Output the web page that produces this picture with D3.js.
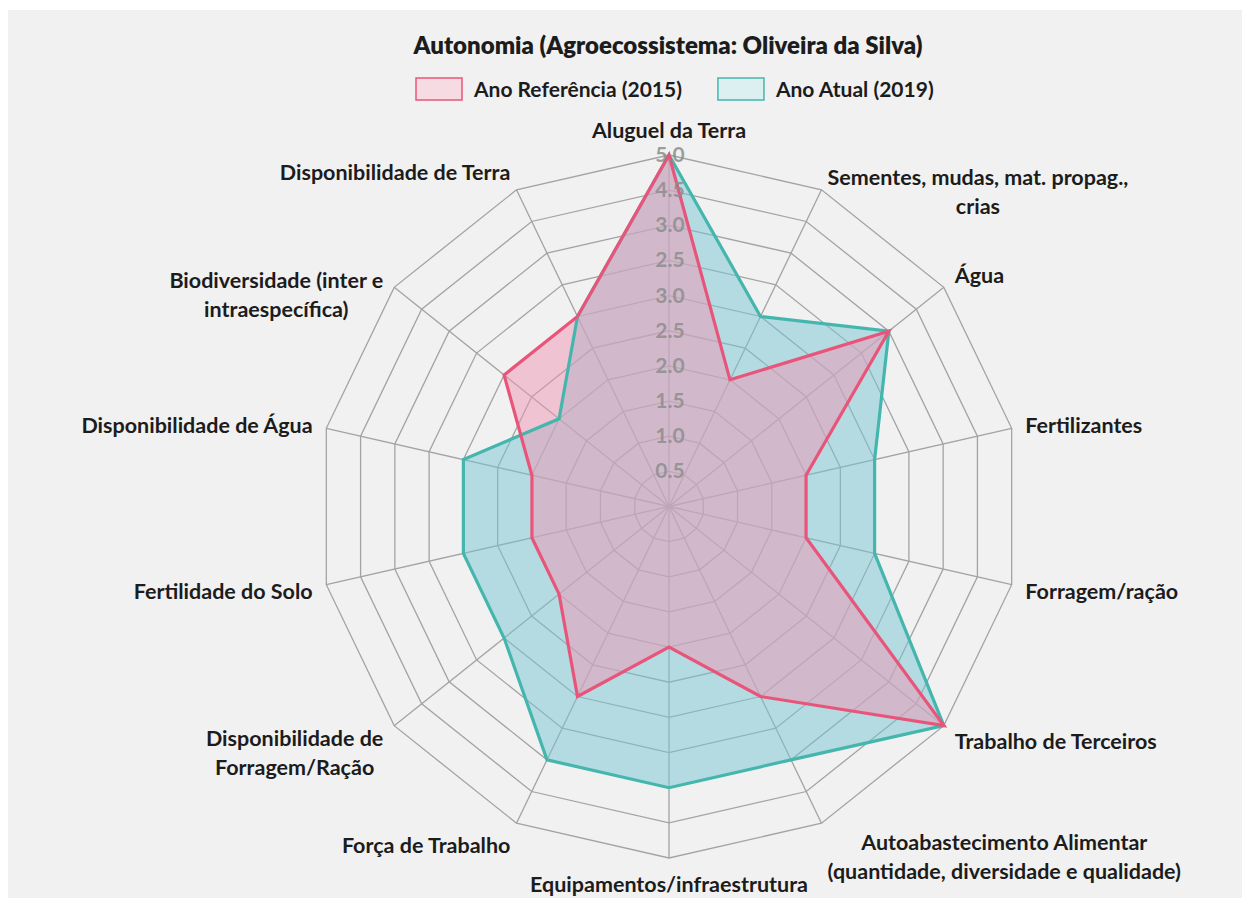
<!DOCTYPE html>
<html>
<head>
<meta charset="utf-8">
<script src="https://cdn.jsdelivr.net/npm/d3@7"></script>
<style>
  html, body { margin: 0; padding: 0; background: #ffffff; }
  svg { display: block; }
</style>
</head>
<body>
<svg id="chart" width="1248" height="904"></svg>
<script>
// ---------------- DATA ----------------
const title = "Autonomia (Agroecossistema: Oliveira da Silva)";
const seriesNames = ["Ano Referência (2015)", "Ano Atual (2019)"];
const categories = [
  "Aluguel da Terra",
  "Sementes, mudas, mat. propag.,\ncrias",
  "Água",
  "Fertilizantes",
  "Forragem/ração",
  "Trabalho de Terceiros",
  "Autoabastecimento Alimentar\n(quantidade, diversidade e qualidade)",
  "Equipamentos/infraestrutura",
  "Força de Trabalho",
  "Disponibilidade de\nForragem/Ração",
  "Fertilidade do Solo",
  "Disponibilidade de Água",
  "Biodiversidade (inter e\nintraespecífica)",
  "Disponibilidade de Terra"
];
const values2015 = [5, 2, 4, 2, 2, 5, 3, 2, 3, 2, 2, 2, 3, 3];
const values2019 = [5, 3, 4, 3, 3, 5, 4, 4, 4, 3, 3, 3, 2, 3];
const tickValues = [0.5, 1.0, 1.5, 2.0, 2.5, 3.0, 3.5, 4.0, 4.5, 5.0];
const tickLabels = ["0.5", "1.0", "1.5", "2.0", "2.5", "3.0", "2.5", "3.0", "4.5", "5.0"];

// ---------------- LAYOUT ----------------
const W = 1248, H = 904;
const cx = 669, cy = 506.5, R = 351.5;
const FONT = "Lato, 'Open Sans', sans-serif";
const colors = {
  s2015: { stroke: "#e9557a", fill: "rgb(239,150,180)", legendFill: "#f6dbe3" },
  s2019: { stroke: "#45b6ad", fill: "rgb(118,198,210)", legendFill: "#dcf0f2" }
};

const svg = d3.select("#chart");
svg.append("rect").attr("x", 8).attr("y", 10).attr("width", W - 14).attr("height", H - 16)
  .attr("fill", "#f1f1f1");

const n = categories.length;
const angle = d3.scaleLinear().domain([0, n]).range([0, 2 * Math.PI]);
const r = d3.scaleLinear().domain([0, 5]).range([0, R]);

const g = svg.append("g").attr("transform", `translate(${cx},${cy})`);

// grid rings
const ringLine = d3.lineRadial()
  .angle((d, i) => angle(i))
  .radius(d => r(d))
  .curve(d3.curveLinearClosed);

g.append("g").selectAll("path")
  .data(tickValues)
  .join("path")
  .attr("d", v => ringLine(d3.range(n).map(() => v)))
  .attr("fill", "none")
  .attr("stroke", "#a3a3a3")
  .attr("stroke-width", 1.3);

// spokes
g.append("g").selectAll("line")
  .data(d3.range(n))
  .join("line")
  .attr("x1", 0).attr("y1", 0)
  .attr("x2", i => Math.sin(angle(i)) * r(5))
  .attr("y2", i => -Math.cos(angle(i)) * r(5))
  .attr("stroke", "#a3a3a3")
  .attr("stroke-width", 1.3);

// series
const areaLine = d3.lineRadial()
  .angle((d, i) => angle(i))
  .radius(d => r(d))
  .curve(d3.curveLinearClosed);

const series = [
  { values: values2019, c: colors.s2019 },
  { values: values2015, c: colors.s2015 }
];
series.forEach(s => {
  g.append("path")
    .attr("d", areaLine(s.values))
    .attr("fill", s.c.fill)
    .attr("fill-opacity", 0.5)
    .attr("stroke", "none");
});
series.forEach(s => {
  g.append("path")
    .attr("d", areaLine(s.values))
    .attr("fill", "none")
    .attr("stroke", s.c.stroke)
    .attr("stroke-width", 3.2)
    .attr("stroke-linejoin", "miter");
});

// tick labels
g.append("g").selectAll("text")
  .data(tickValues)
  .join("text")
  .attr("x", 1)
  .attr("y", v => -r(v))
  .attr("dy", "0.33em")
  .attr("text-anchor", "middle")
  .attr("font-family", FONT)
  .attr("font-weight", 700)
  .attr("font-size", 21)
  .attr("fill", "#8d8d8d")
  .attr("fill-opacity", 0.85)
  .text((v, i) => tickLabels[i]);

// axis labels
const lineH = 29;
const labelG = svg.append("g");
categories.forEach((lab, i) => {
  const a = angle(i);
  const dx = Math.sin(a), dy = -Math.cos(a);
  const px = cx + dx * (R + 14), py = cy + dy * (R + 14);
  const lines = lab.split("\n");
  const t = labelG.append("text")
    .attr("font-family", FONT)
    .attr("font-weight", 700)
    .attr("font-size", 21.5)
    .attr("fill", "#1c1c1c")
    .attr("text-anchor", "middle");
  const spans = lines.map(l => t.append("tspan").text(l));
  const bw = d3.max(spans, s => s.node().getComputedTextLength());
  const bh = lines.length * lineH;
  let xc, yc;
  if (Math.abs(dx) < 0.15) {
    xc = px;
    yc = dy < 0 ? py - bh / 2 + 4 : py + bh / 2 - 2;
  } else {
    xc = dx > 0 ? px + bw / 2 : px - bw / 2;
    const multi = (lines.length - 1) * (lineH * 0.4 + (dy < 0 ? 8 : 0));
    yc = py + dy * 8 + 2 + multi;
  }
  spans.forEach((s, k) => {
    s.attr("x", xc)
     .attr("y", yc - bh / 2 + lineH * (k + 0.5))
     .attr("dy", "0.35em");
  });
});

// title
svg.append("text")
  .attr("x", 668).attr("y", 54)
  .attr("text-anchor", "middle")
  .attr("font-family", FONT)
  .attr("font-weight", 800)
  .attr("font-size", 24)
  .attr("fill", "#1c1c1c")
  .text(title);

// legend
const legend = svg.append("g");
let lx = 416;
[colors.s2015, colors.s2019].forEach((c, i) => {
  legend.append("rect")
    .attr("x", lx).attr("y", 78).attr("width", 46).attr("height", 22)
    .attr("fill", c.legendFill).attr("stroke", c.stroke).attr("stroke-width", 1.5);
  const t = legend.append("text")
    .attr("x", lx + 58).attr("y", 97)
    .attr("font-family", FONT)
    .attr("font-weight", 700)
    .attr("font-size", 21)
    .attr("fill", "#1c1c1c")
    .text(seriesNames[i]);
  lx = lx + 58 + t.node().getComputedTextLength() + 36;
});
</script>
</body>
</html>
